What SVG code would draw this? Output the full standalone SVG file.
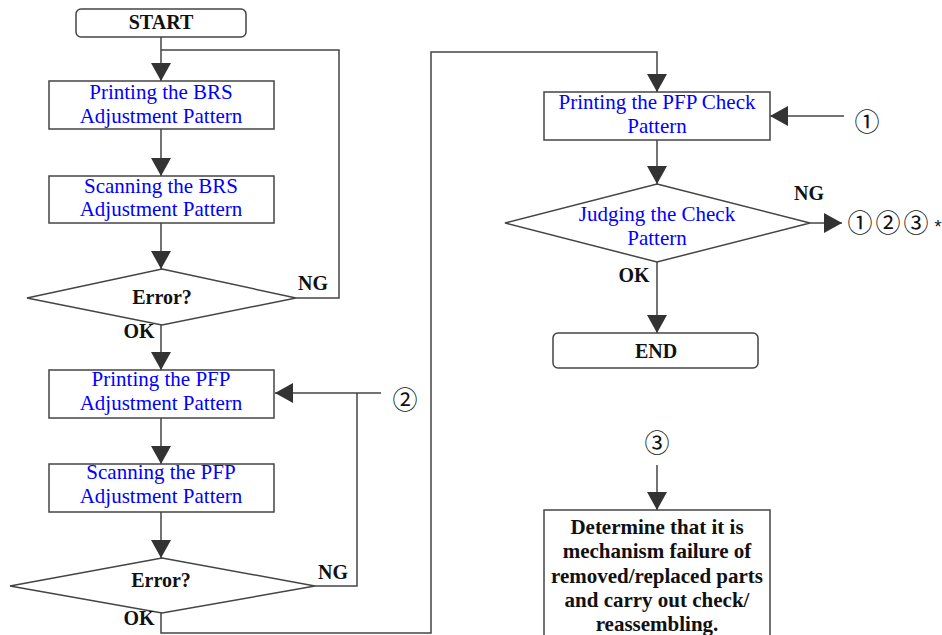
<svg xmlns="http://www.w3.org/2000/svg" width="942" height="635" viewBox="0 0 942 635">
<style>
.box{fill:#fff;stroke:#444;stroke-width:1.5}
.ln{fill:none;stroke:#444;stroke-width:1.5}
.bt{font-family:"Liberation Serif","Times New Roman",serif;font-size:21px;fill:#0000ff;text-anchor:middle}
.kt{font-family:"Liberation Serif","Times New Roman",serif;font-size:20px;font-weight:bold;fill:#111;text-anchor:middle}
.dt{font-size:21px}
.ct{font-family:"Noto Sans CJK JP","DejaVu Sans",sans-serif;font-size:25px;fill:#111;text-anchor:middle}
</style>
<defs>
<marker id="ah" viewBox="0 0 18 20" refX="18" refY="10" markerWidth="18" markerHeight="20" markerUnits="userSpaceOnUse" orient="auto">
<path d="M0,0 L18,10 L0,20 z" fill="#333"/>
</marker>
</defs>
<g id="connectors">
<line class="ln" x1="161" y1="37" x2="161" y2="81" marker-end="url(#ah)"/>
<polyline class="ln" points="296,298 339,298 339,50 161,50"/>
<line class="ln" x1="161" y1="129" x2="161" y2="176" marker-end="url(#ah)"/>
<line class="ln" x1="161" y1="223" x2="161" y2="269" marker-end="url(#ah)"/>
<line class="ln" x1="161" y1="325" x2="161" y2="370" marker-end="url(#ah)"/>
<line class="ln" x1="381" y1="393" x2="275" y2="393" marker-end="url(#ah)"/>
<polyline class="ln" points="315,586 357,586 357,393"/>
<line class="ln" x1="161" y1="418" x2="161" y2="464" marker-end="url(#ah)"/>
<line class="ln" x1="161" y1="512" x2="161" y2="558" marker-end="url(#ah)"/>
<polyline class="ln" points="161,613 161,633 431,633 431,52 657,52 657,92" marker-end="url(#ah)"/>
<line class="ln" x1="844" y1="116" x2="770" y2="116" marker-end="url(#ah)"/>
<line class="ln" x1="657" y1="140" x2="657" y2="184" marker-end="url(#ah)"/>
<line class="ln" x1="810" y1="223" x2="842" y2="223" marker-end="url(#ah)"/>
<line class="ln" x1="657" y1="262" x2="657" y2="333" marker-end="url(#ah)"/>
<line class="ln" x1="657" y1="465" x2="657" y2="510" marker-end="url(#ah)"/>
</g>
<g id="start">
<rect class="box" x="76" y="9" width="170" height="28" rx="5"/>
<text class="kt" x="161" y="29">START</text>
</g>
<g id="print-brs">
<rect class="box" x="49" y="81" width="225" height="48"/>
<text class="bt" x="161" y="99">Printing the BRS</text>
<text class="bt" x="161" y="123">Adjustment Pattern</text>
</g>
<g id="scan-brs">
<rect class="box" x="49" y="176" width="225" height="47"/>
<text class="bt" x="161" y="193">Scanning the BRS</text>
<text class="bt" x="161" y="216">Adjustment Pattern</text>
</g>
<g id="error1">
<polygon class="box" points="162,269 296,298 162,325 27,298"/>
<text class="kt" x="162" y="304">Error?</text>
<text class="kt" x="313" y="290">NG</text>
<text class="kt" x="139" y="338">OK</text>
</g>
<g id="print-pfp">
<rect class="box" x="49" y="370" width="225" height="48"/>
<text class="bt" x="161" y="386">Printing the PFP</text>
<text class="bt" x="161" y="410">Adjustment Pattern</text>
</g>
<g id="ref2">
<text class="ct" x="405" y="409">②</text>
</g>
<g id="scan-pfp">
<rect class="box" x="49" y="464" width="225" height="48"/>
<text class="bt" x="161" y="479">Scanning the PFP</text>
<text class="bt" x="161" y="503">Adjustment Pattern</text>
</g>
<g id="error2">
<polygon class="box" points="162,558 315,586 162,613 10,586"/>
<text class="kt" x="161" y="587">Error?</text>
<text class="kt" x="333" y="579">NG</text>
<text class="kt" x="139" y="625">OK</text>
</g>
<g id="print-check">
<rect class="box" x="544" y="92" width="226" height="48"/>
<text class="bt" x="657" y="109">Printing the PFP Check</text>
<text class="bt" x="657" y="133">Pattern</text>
</g>
<g id="ref1">
<text class="ct" x="867" y="131">①</text>
</g>
<g id="judge">
<polygon class="box" points="657,184 810,223 657,262 505,223"/>
<text class="bt" x="657" y="221">Judging the Check</text>
<text class="bt" x="657" y="245">Pattern</text>
<text class="kt" x="809" y="200">NG</text>
<text class="kt" x="634" y="282">OK</text>
</g>
<g id="refs-ng">
<text class="ct" y="232"><tspan x="860">①</tspan><tspan x="888">②</tspan><tspan x="916">③</tspan></text>
<text x="938" y="233" font-family="Liberation Sans, sans-serif" font-size="18" fill="#111" text-anchor="middle">*</text>
</g>
<g id="end">
<rect class="box" x="553" y="333" width="205" height="35" rx="5"/>
<text class="kt" x="656" y="358">END</text>
</g>
<g id="ref3">
<text class="ct" x="657" y="452">③</text>
</g>
<g id="determine">
<path class="box" d="M544,640 V510 H770 V640"/>
<text class="kt dt" x="657" y="534">Determine that it is</text>
<text class="kt dt" x="657" y="558">mechanism failure of</text>
<text class="kt dt" x="657" y="583">removed/replaced parts</text>
<text class="kt dt" x="657" y="607">and carry out check/</text>
<text class="kt dt" x="657" y="631">reassembling.</text>
</g>
</svg>
